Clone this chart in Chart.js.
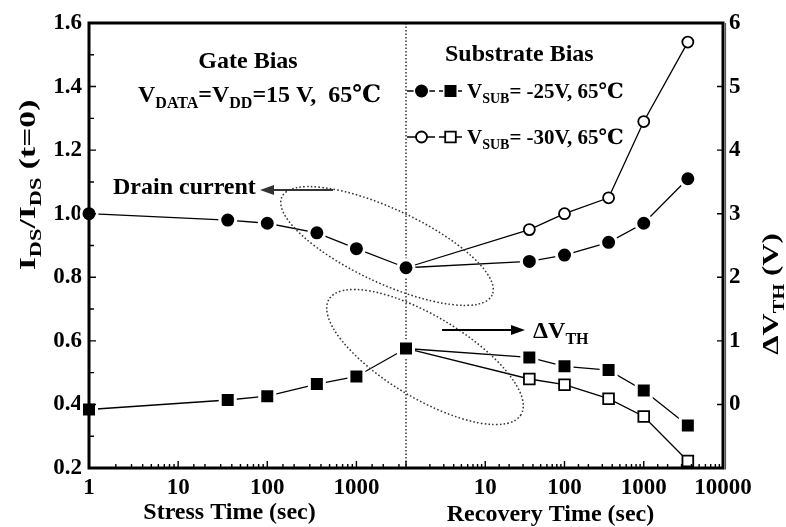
<!DOCTYPE html>
<html>
<head>
<meta charset="utf-8">
<title>Drain current and threshold shift under gate / substrate bias</title>
<script src="https://cdn.jsdelivr.net/npm/chart.js@4.4.1/dist/chart.umd.min.js"></script>
<style>
  html, body { margin: 0; padding: 0; background: #fff; }
  #wrap { width: 786px; height: 527px; }
</style>
</head>
<body>
<div id="wrap"><canvas id="chartBias" width="786" height="527"></canvas></div>
<script>
// stress (gate bias) and recovery (substrate bias) times, seconds
const stressTime = [1, 36, 100, 360, 1000, 3600];
const recoveryTime = [36, 100, 360, 1000, 3600];

// normalised drain current I_DS / I_DS(t=0)
const stressCurrent = [1.00, 0.98, 0.97, 0.94, 0.89, 0.83];
const recCurrent25 = [0.85, 0.87, 0.91, 0.97, 1.11];
const recCurrent30 = [0.95, 1.00, 1.05, 1.29, 1.54];

// threshold voltage shift (V)
const stressVth = [-0.08, 0.07, 0.13, 0.32, 0.44, 0.88];
const recVth25 = [0.74, 0.60, 0.54, 0.22, -0.33];
const recVth30 = [0.40, 0.31, 0.09, -0.19, -0.89];

// labelled ticks
const stressTickLabels = [1, 10, 100, 1000];
const recoveryTickLabels = [10, 100, 1000, 10000];
const currentTickLabels = [0.2, 0.4, 0.6, 0.8, 1.0, 1.2, 1.4, 1.6];
const vthTickLabels = [0, 1, 2, 3, 4, 5, 6];

const SERIF = "'Liberation Serif', 'Times New Roman', 'DejaVu Serif', 'Noto Sans CJK SC', serif";
const fontOf = size => `bold ${size}px ${SERIF}`;

const isDecade = v => Math.abs(Math.log10(v) - Math.round(Math.log10(v))) < 1e-9;
const inList = (list, v) => list.some(t => Math.abs(t - v) < 1e-6);

// recovery curves start from the last stress point (recovery t = 1 s sits on the divider)
const recX = [1].concat(recoveryTime);
const pts = (xs, ys) => xs.map((x, i) => ({ x: x, y: ys[i] }));
const firstHidden = (n, r) => [0].concat(new Array(n).fill(r));

const lineBase = {
    showLine: true,
    borderColor: '#000',
    borderWidth: 1.3,
    pointHoverRadius: 0,
    clip: false
};
// filled marks get a white rim so the joining lines stop just short of them
const filledCircle = { pointStyle: 'circle', pointBackgroundColor: '#000', pointBorderColor: '#fff', pointBorderWidth: 3 };
const filledSquare = { pointStyle: 'rect', pointBackgroundColor: '#000', pointBorderColor: '#fff', pointBorderWidth: 3 };
const openCircle = { pointStyle: 'circle', pointBackgroundColor: '#fff', pointBorderColor: '#000', pointBorderWidth: 1.8 };
const openSquare = { pointStyle: 'rect', pointBackgroundColor: '#fff', pointBorderColor: '#000', pointBorderWidth: 1.8 };

// rich text with subscripts: parts = [[text, isSub], ...]
function drawRich(ctx, parts, x, y, size, subSize, align) {
    const widths = parts.map(p => {
        ctx.font = fontOf(p[1] ? subSize : size);
        return ctx.measureText(p[0]).width;
    });
    const total = widths.reduce((s, w) => s + w, 0);
    let cx = align === 'center' ? x - total / 2 : x;
    ctx.textAlign = 'left';
    ctx.textBaseline = 'alphabetic';
    parts.forEach((p, i) => {
        ctx.font = fontOf(p[1] ? subSize : size);
        ctx.fillText(p[0], cx, p[1] ? y + size * 0.26 : y);
        cx += widths[i];
    });
}

function arrow(ctx, x1, y1, x2, y2, color) {
    const ang = Math.atan2(y2 - y1, x2 - x1);
    const hl = 14, hw = 5;
    ctx.strokeStyle = color;
    ctx.fillStyle = color;
    ctx.lineWidth = 1.8;
    ctx.beginPath();
    ctx.moveTo(x1, y1);
    ctx.lineTo(x2 - hl * Math.cos(ang), y2 - hl * Math.sin(ang));
    ctx.stroke();
    ctx.beginPath();
    ctx.moveTo(x2, y2);
    ctx.lineTo(x2 - hl * Math.cos(ang) + hw * Math.sin(ang), y2 - hl * Math.sin(ang) - hw * Math.cos(ang));
    ctx.lineTo(x2 - hl * Math.cos(ang) - hw * Math.sin(ang), y2 - hl * Math.sin(ang) + hw * Math.cos(ang));
    ctx.closePath();
    ctx.fill();
}

function dottedEllipse(ctx, cx, cy, a, b, deg) {
    ctx.save();
    ctx.strokeStyle = '#333';
    ctx.lineWidth = 1.5;
    ctx.setLineDash([1.6, 2.2]);
    ctx.beginPath();
    ctx.ellipse(cx, cy, a, b, deg * Math.PI / 180, 0, Math.PI * 2);
    ctx.stroke();
    ctx.restore();
}

// legend / call-out marks drawn the same way as the data marks
function legendMark(ctx, x, y, shape, filled) {
    ctx.beginPath();
    if (shape === 'circle') {
        ctx.arc(x, y, filled ? 6.5 : 5.5, 0, Math.PI * 2);
    } else {
        const h = filled ? 6 : 5.3;
        ctx.rect(x - h, y - h, 2 * h, 2 * h);
    }
    if (filled) {
        ctx.fillStyle = '#000';
        ctx.strokeStyle = '#fff';
        ctx.lineWidth = 3;
        ctx.stroke();
        ctx.fill();
    } else {
        ctx.fillStyle = '#fff';
        ctx.strokeStyle = '#000';
        ctx.lineWidth = 1.8;
        ctx.fill();
        ctx.stroke();
    }
}

// divider between stress and recovery, under the data
const divider = {
    id: 'divider',
    beforeDatasetsDraw(chart) {
        const { ctx, chartArea: a } = chart;
        const x = chart.scales.xr.left;
        ctx.save();
        ctx.strokeStyle = '#333';
        ctx.lineWidth = 1.5;
        ctx.setLineDash([1.5, 2]);
        ctx.beginPath();
        ctx.moveTo(x, a.top);
        ctx.lineTo(x, a.bottom);
        ctx.stroke();
        ctx.restore();
    }
};

// frame and inward tick marks
const axisFrame = {
    id: 'axisFrame',
    afterDatasetsDraw(chart) {
        const { ctx, chartArea: a } = chart;
        const { xs, xr, y, y2 } = chart.scales;
        ctx.save();
        ctx.strokeStyle = '#000';
        ctx.lineWidth = 1.4;
        ctx.beginPath();
        y.ticks.forEach(t => {
            const p = y.getPixelForValue(t.value);
            const len = inList(currentTickLabels, t.value) ? 7 : 5;
            ctx.moveTo(a.left, p);
            ctx.lineTo(a.left + len, p);
        });
        y2.ticks.forEach(t => {
            const p = y2.getPixelForValue(t.value);
            ctx.moveTo(a.right, p);
            ctx.lineTo(a.right - 6, p);
        });
        [xs, xr].forEach(s => s.ticks.forEach(t => {
            const p = s.getPixelForValue(t.value);
            const len = isDecade(t.value) ? 7 : 4;
            ctx.moveTo(p, a.bottom);
            ctx.lineTo(p, a.bottom - len);
        }));
        ctx.stroke();

        ctx.lineWidth = 3;
        ctx.strokeRect(a.left, a.top, a.right - a.left, a.bottom - a.top);
        ctx.lineWidth = 1.2;
        ctx.strokeStyle = '#555';
        ctx.beginPath();
        ctx.moveTo(a.right + 2.5, a.top);
        ctx.lineTo(a.right + 2.5, a.bottom + 1.5);
        ctx.stroke();
        ctx.restore();
    }
};

// axis titles with subscripts, condition labels, legend and call-outs
const annotations = {
    id: 'annotations',
    afterDraw(chart) {
        const { ctx, chartArea: a } = chart;
        const { xs, xr } = chart.scales;
        const ox = a.left - 89, oy = a.top - 23;
        ctx.save();
        ctx.fillStyle = '#000';

        // left axis title
        ctx.save();
        ctx.translate(35, oy + 185);
        ctx.rotate(-Math.PI / 2);
        ctx.scale(1.4, 1);
        drawRich(ctx, [['I'], ['DS', 1], ['/I'], ['DS', 1], [' (t=0)']], 0, 0, 24, 16, 'center');
        ctx.restore();

        // right axis title
        ctx.save();
        ctx.translate(778, oy + 294);
        ctx.rotate(-Math.PI / 2);
        ctx.scale(1.28, 1);
        drawRich(ctx, [['ΔV'], ['TH', 1], [' (V)']], 0, 0, 24, 16, 'center');
        ctx.restore();

        // time axis titles
        ctx.font = fontOf(24);
        ctx.textAlign = 'center';
        ctx.textBaseline = 'alphabetic';
        ctx.fillText('Stress Time (sec)', (xs.left + xs.right) / 2 - 18, 519);
        ctx.fillText('Recovery Time (sec)', (xr.left + xr.right) / 2 - 14, 521);

        ctx.fillText('Gate Bias', ox + 248, oy + 68);
        drawRich(ctx, [['V'], ['DATA', 1], ['=V'], ['DD', 1], ['=15 V,  65℃']], ox + 138, oy + 102, 24, 16);

        ctx.font = fontOf(24);
        ctx.textAlign = 'left';
        ctx.fillText('Substrate Bias', ox + 445, oy + 61);

        // legend rows
        const rows = [
            { y: 91, filled: true, text: '= -25V, 65℃' },
            { y: 137, filled: false, text: '= -30V, 65℃' }
        ];
        rows.forEach(r => {
            const ry = oy + r.y;
            ctx.strokeStyle = '#000';
            ctx.lineWidth = 1.3;
            ctx.beginPath();
            ctx.moveTo(ox + 407, ry); ctx.lineTo(ox + 435, ry);
            ctx.moveTo(ox + 439, ry); ctx.lineTo(ox + 462, ry);
            ctx.stroke();
            legendMark(ctx, ox + 421.5, ry, 'circle', r.filled);
            legendMark(ctx, ox + 450.5, ry, 'rect', r.filled);
            ctx.fillStyle = '#000';
            drawRich(ctx, [['V'], ['SUB', 1], [r.text]], ox + 467, ry + 7, 21, 14);
        });

        // drain current call-out
        ctx.font = fontOf(24);
        ctx.textAlign = 'left';
        ctx.fillStyle = '#000';
        ctx.fillText('Drain current', ox + 113, oy + 194);
        arrow(ctx, ox + 333, oy + 190, ox + 260, oy + 190, '#333');
        dottedEllipse(ctx, ox + 387, oy + 246, 116, 37, 25);

        // threshold shift call-out
        dottedEllipse(ctx, ox + 425, oy + 357, 112, 41, 31);
        arrow(ctx, ox + 442, oy + 330, ox + 525, oy + 330, '#000');
        ctx.fillStyle = '#000';
        drawRich(ctx, [['ΔV'], ['TH', 1]], ox + 533, oy + 338, 24, 16);

        ctx.restore();
    }
};

const tickFont = { family: SERIF, size: 23, weight: 'bold' };

const ctxBias = document.getElementById('chartBias').getContext('2d');
const chartBias = new Chart(ctxBias, {
    type: 'scatter',
    data: {
        datasets: [
            // stress phase
            Object.assign({}, lineBase, filledCircle, {
                label: 'Drain current, gate bias',
                data: pts(stressTime, stressCurrent),
                xAxisID: 'xs', yAxisID: 'y', pointRadius: 8
            }),
            Object.assign({}, lineBase, filledSquare, {
                label: 'ΔVth, gate bias',
                data: pts(stressTime, stressVth),
                xAxisID: 'xs', yAxisID: 'y2', pointRadius: 10.6
            }),
            // recovery phase
            Object.assign({}, lineBase, filledCircle, {
                label: 'Drain current, VSUB = -25V',
                data: pts(recX, [stressCurrent[stressCurrent.length - 1]].concat(recCurrent25)),
                xAxisID: 'xr', yAxisID: 'y', pointRadius: firstHidden(recCurrent25.length, 8)
            }),
            Object.assign({}, lineBase, openCircle, {
                label: 'Drain current, VSUB = -30V',
                data: pts(recX, [stressCurrent[stressCurrent.length - 1]].concat(recCurrent30)),
                xAxisID: 'xr', yAxisID: 'y', pointRadius: firstHidden(recCurrent30.length, 5.5)
            }),
            Object.assign({}, lineBase, filledSquare, {
                label: 'ΔVth, VSUB = -25V',
                data: pts(recX, [stressVth[stressVth.length - 1]].concat(recVth25)),
                xAxisID: 'xr', yAxisID: 'y2', pointRadius: firstHidden(recVth25.length, 10.6)
            }),
            Object.assign({}, lineBase, openSquare, {
                label: 'ΔVth, VSUB = -30V',
                data: pts(recX, [stressVth[stressVth.length - 1]].concat(recVth30)),
                xAxisID: 'xr', yAxisID: 'y2', pointRadius: firstHidden(recVth30.length, 7.6)
            })
        ]
    },
    options: {
        responsive: false,
        animation: false,
        layout: { padding: { top: 23, left: 0, right: 0, bottom: 0 } },
        plugins: {
            legend: { display: false },
            tooltip: { enabled: false }
        },
        scales: {
            xs: {
                type: 'logarithmic',
                position: 'bottom',
                stack: 'time',
                stackWeight: 1,
                min: 1,
                max: 3600,
                grid: { display: false, drawTicks: false },
                border: { display: false },
                ticks: {
                    autoSkip: false, maxRotation: 0, padding: 6, color: '#000', font: tickFont,
                    callback: v => inList(stressTickLabels, v) ? String(v) : ''
                },
                afterFit: s => { s.height = 59; }
            },
            xr: {
                type: 'logarithmic',
                position: 'bottom',
                stack: 'time',
                stackWeight: 1,
                min: 1,
                max: 10000,
                grid: { display: false, drawTicks: false },
                border: { display: false },
                ticks: {
                    autoSkip: false, maxRotation: 0, padding: 6, color: '#000', font: tickFont,
                    callback: v => inList(recoveryTickLabels, v) ? String(v) : ''
                },
                afterFit: s => { s.height = 59; }
            },
            y: {
                type: 'linear',
                position: 'left',
                min: 0.2,
                max: 1.6,
                grid: { display: false, drawTicks: false },
                border: { display: false },
                ticks: {
                    stepSize: 0.1, autoSkip: false, padding: 7, color: '#000', font: tickFont,
                    callback: v => inList(currentTickLabels, v) ? v.toFixed(1) : ''
                },
                afterFit: s => { s.width = 89; }
            },
            y2: {
                type: 'linear',
                position: 'right',
                min: -1,
                max: 6,
                grid: { display: false, drawTicks: false },
                border: { display: false },
                ticks: {
                    stepSize: 1, autoSkip: false, padding: 6, color: '#000', font: tickFont,
                    callback: v => inList(vthTickLabels, v) ? String(v) : ''
                },
                afterFit: s => { s.width = 63; }
            }
        }
    },
    plugins: [divider, axisFrame, annotations]
});
</script>
</body>
</html>
